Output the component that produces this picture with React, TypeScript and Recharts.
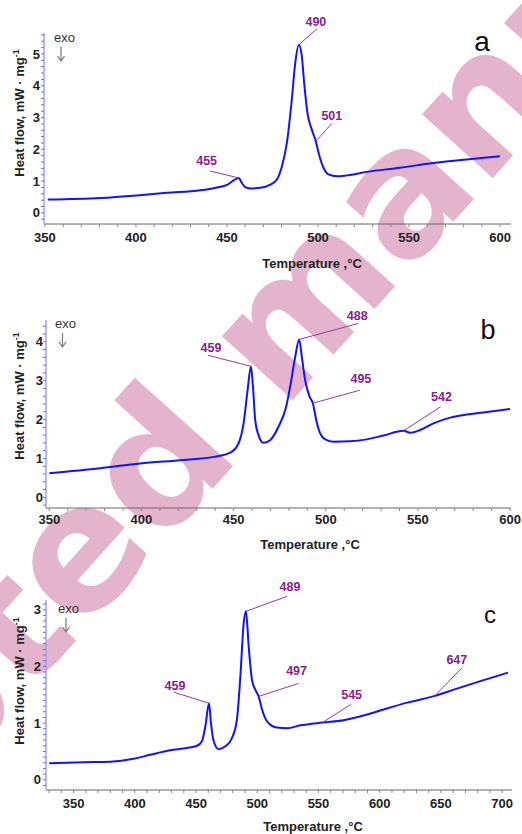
import { LineChart, Line, XAxis, YAxis, ReferenceDot } from 'recharts';

// panel a
const tempA = [351.6, 380.5, 400.6, 417, 435.4, 444.5, 450, 453.7, 456.4, 458.2, 460, 462.8, 468.3, 473.8, 477.4, 480.2, 482.9, 485.6, 487.5, 489.5, 491.1, 492.4, 494.2, 496.6, 498.8, 500.8, 503, 505.8, 510.3, 515.8, 526.8, 545, 563.3, 581.6, 599.9];
const flowA = [0.42, 0.47, 0.55, 0.63, 0.71, 0.8, 0.88, 1.02, 1.1, 0.94, 0.81, 0.77, 0.79, 0.89, 1.05, 1.47, 2.2, 3.56, 4.72, 5.29, 4.93, 4.09, 3.14, 2.62, 2.25, 1.78, 1.42, 1.21, 1.15, 1.18, 1.29, 1.42, 1.57, 1.68, 1.78];
const peaksA = [
  { label: '455', t: 456.4, v: 1.1 },
  { label: '490', t: 489.5, v: 5.29 },
  { label: '501', t: 498.8, v: 2.25 },
];

// panel b
const tempB = [350, 377.7, 399.3, 422.8, 439.1, 448.2, 452.7, 455.4, 457.6, 459.4, 460.5, 461.7, 463.5, 466.2, 469.8, 474.4, 478.5, 481, 483.4, 485.6, 487, 488.8, 491.2, 493, 494.8, 497, 499.7, 504.2, 513.2, 522.3, 531.3, 542.2, 545.8, 551.2, 558.4, 567.5, 576.5, 585.5, 600];
const flowB = [0.62, 0.75, 0.87, 0.96, 1.04, 1.15, 1.39, 1.9, 2.76, 3.37, 2.84, 1.99, 1.6, 1.4, 1.47, 1.82, 2.33, 2.93, 3.61, 4.06, 3.61, 3.01, 2.59, 2.42, 1.99, 1.64, 1.49, 1.43, 1.44, 1.49, 1.59, 1.71, 1.66, 1.73, 1.9, 2.05, 2.13, 2.18, 2.27];
const peaksB = [
  { label: '459', t: 459.4, v: 3.37 },
  { label: '488', t: 485.6, v: 4.06 },
  { label: '495', t: 493, v: 2.42 },
  { label: '542', t: 542.2, v: 1.71 },
];

// panel c
const tempC = [330.1, 358.2, 380, 399, 412.6, 429, 442.6, 450.8, 454.8, 457.6, 460.6, 462.2, 464.4, 468.5, 473.9, 479.4, 483.4, 486.2, 488.9, 490.8, 493, 495.7, 498.4, 501.1, 503.9, 508, 516.1, 524.3, 535.2, 553.4, 570.6, 589.7, 603.3, 622.3, 645, 660.5, 682.2, 704.8];
const flowC = [0.29, 0.31, 0.32, 0.37, 0.44, 0.52, 0.56, 0.6, 0.68, 0.94, 1.35, 1.0, 0.68, 0.54, 0.59, 0.74, 1.06, 1.82, 2.76, 2.97, 2.35, 1.76, 1.59, 1.47, 1.24, 1.03, 0.92, 0.91, 0.96, 1.01, 1.05, 1.15, 1.24, 1.36, 1.48, 1.59, 1.74, 1.89];
const peaksC = [
  { label: '459', t: 460.6, v: 1.35 },
  { label: '489', t: 490.8, v: 2.97 },
  { label: '497', t: 501.1, v: 1.47 },
  { label: '545', t: 553.4, v: 1.01 },
  { label: '647', t: 645, v: 1.48 },
];

const panelLetters = ['a', 'b', 'c'];

// leader line end and label position, px from the marked point
const calloutA = [
  { lx: -29, ly: -7, tx: -32, ty: -13 },
  { lx: 18, ly: -16, tx: 17, ty: -19 },
  { lx: 16, ly: -18, tx: 16, ty: -21 },
];
const calloutB = [
  { lx: -43, ly: -11, tx: -40, ty: -14 },
  { lx: 59, ly: -16, tx: 58, ty: -19 },
  { lx: 47, ly: -13, tx: 48, ty: -20 },
  { lx: 37, ly: -24, tx: 38, ty: -30 },
];
const calloutC = [
  { lx: -35, ly: -11, tx: -34, ty: -13 },
  { lx: 41, ly: -15, tx: 44, ty: -20 },
  { lx: 40, ly: -13, tx: 38, ty: -21 },
  { lx: 28, ly: -18, tx: 29, ty: -24 },
  { lx: 27, ly: -28, tx: 22, ty: -32 },
];

const FONT = 'Arial, "Liberation Sans", sans-serif';
const CURVE = '#1212ff';
const NOTE = '#8a1c8a';

const steps = (from: number, to: number, step: number) => {
  const out: number[] = [];
  for (let i = 0; from + i * step <= to + 1e-9; i++) out.push(+(from + i * step).toFixed(3));
  return out;
};

const intLabel = (v: number) => (Math.abs(v - Math.round(v)) < 1e-6 ? String(Math.round(v)) : '');
const fiftyLabel = (v: number) => (Math.round(v) % 50 === 0 ? String(Math.round(v)) : '');

function Callout(props: any) {
  const { cx, cy, note, pos } = props;
  if (cx == null || cy == null) return null;
  return (
    <g>
      <line x1={cx} y1={cy} x2={cx + pos.lx} y2={cy + pos.ly} stroke="#9a3a9a" strokeWidth={1} />
      <text x={cx + pos.tx} y={cy + pos.ty} textAnchor="middle" fontSize={12.5} fontWeight="bold" fill={NOTE} fontFamily={FONT}>
        {note.label}
      </text>
    </g>
  );
}

interface PanelProps {
  temps: number[];
  flows: number[];
  peaks: { label: string; t: number; v: number }[];
  callouts: { lx: number; ly: number; tx: number; ty: number }[];
  height: number;
  top: number;
  axisW: number;
  axisH: number;
  right: number;
  xDomain: [number, number];
  yDomain: [number, number];
  xTicks: number[];
  yTicks: number[];
  xTickMargin: number;
  yTickMargin: number;
}

function Panel(p: PanelProps) {
  const data = p.temps.map((t, i) => ({ t, v: p.flows[i] }));
  const tickStyle = { fontSize: 13, fontWeight: 'bold', fill: '#222', fontFamily: FONT };
  return (
    <LineChart width={522} height={p.height} data={data} margin={{ top: p.top, right: p.right, left: 0, bottom: 0 }}>
      <XAxis
        type="number"
        dataKey="t"
        domain={p.xDomain}
        ticks={p.xTicks}
        interval={0}
        allowDataOverflow
        height={p.axisH}
        tickFormatter={fiftyLabel}
        tickSize={3}
        tickMargin={p.xTickMargin}
        tick={tickStyle}
        axisLine={{ stroke: '#666' }}
        tickLine={{ stroke: '#888' }}
      />
      <YAxis
        type="number"
        domain={p.yDomain}
        ticks={p.yTicks}
        interval={0}
        allowDataOverflow
        width={p.axisW}
        tickFormatter={intLabel}
        tickSize={3}
        tickMargin={p.yTickMargin}
        tick={tickStyle}
        axisLine={{ stroke: '#a0a0ff', strokeWidth: 1.5 }}
        tickLine={{ stroke: '#6a6aff' }}
      />
      <Line type="monotone" dataKey="v" stroke={CURVE} strokeWidth={2} dot={false} isAnimationActive={false} />
      {p.peaks.map((pk, i) => (
        <ReferenceDot
          key={pk.label + i}
          x={pk.t}
          y={pk.v}
          r={0}
          ifOverflow="visible"
          shape={(s: any) => <Callout {...s} note={pk} pos={p.callouts[i]} />}
        />
      ))}
    </LineChart>
  );
}

function Exo({ x, y, ax, ay }: { x: number; y: number; ax: number; ay: number }) {
  return (
    <g>
      <text x={x} y={y} fontSize={13} fill="#333" fontFamily={FONT}>exo</text>
      <path d={`M${ax},${ay} L${ax},${ay + 14} M${ax - 3.5},${ay + 9} L${ax},${ay + 14} L${ax + 3.5},${ay + 9}`} stroke="#777" strokeWidth={1.2} fill="none" />
    </g>
  );
}

function YTitle({ x, y }: { x: number; y: number }) {
  return (
    <text x={x} y={y} transform={`rotate(-90, ${x}, ${y})`} textAnchor="middle" fontSize={13} fontWeight="bold" fill="#222" fontFamily={FONT}>
      Heat flow, mW · mg<tspan dy={-5} fontSize={9}>-1</tspan>
    </text>
  );
}

function XTitle({ x, y }: { x: number; y: number }) {
  return (
    <text x={x} y={y} textAnchor="middle" fontSize={13} fontWeight="bold" fill="#222" fontFamily={FONT}>
      Temperature ,°C
    </text>
  );
}

export default function App() {
  const box = { position: 'absolute' as const, left: 0 };
  return (
    <div style={{ position: 'absolute', left: 0, top: 0, width: 522, height: 834, background: '#fff', overflow: 'hidden' }}>
      {/* watermark */}
      <svg width={522} height={834} style={{ ...box, top: 0 }}>
        <g transform="translate(263,433) rotate(-48)" fill="#e4b4cc" fontFamily='"DejaVu Sans", sans-serif' fontWeight="bold" fontSize={174}>
          <text x={-30} y={0} textAnchor="end">Accepted</text>
          <text x={30} y={0}>manuscript</text>
        </g>
      </svg>

      <div style={{ ...box, top: 0 }}>
        <Panel
          temps={tempA} flows={flowA} peaks={peaksA} callouts={calloutA}
          height={280} top={33} axisW={44} axisH={56} right={11}
          xDomain={[349.5, 606]} yDomain={[-0.35, 5.66]}
          xTicks={steps(350, 600, 10)} yTicks={steps(-0.2, 5.6, 0.2)}
          xTickMargin={6} yTickMargin={1}
        />
      </div>
      <div style={{ ...box, top: 280 }}>
        <Panel
          temps={tempB} flows={flowB} peaks={peaksB} callouts={calloutB}
          height={280} top={40} axisW={46} axisH={52} right={11}
          xDomain={[348.2, 600.5]} yDomain={[-0.275, 4.56]}
          xTicks={steps(350, 600, 10)} yTicks={steps(-0.2, 4.4, 0.2)}
          xTickMargin={4} yTickMargin={0}
        />
      </div>
      <div style={{ ...box, top: 560 }}>
        <Panel
          temps={tempC} flows={flowC} peaks={peaksC} callouts={calloutC}
          height={274} top={40} axisW={46} axisH={44} right={10}
          xDomain={[327.5, 708]} yDomain={[-0.18, 3.17]}
          xTicks={steps(330, 700, 10)} yTicks={steps(-0.1, 3.1, 0.1)}
          xTickMargin={6} yTickMargin={2}
        />
      </div>

      <svg width={522} height={834} style={{ ...box, top: 0, pointerEvents: 'none' }}>
        <YTitle x={24} y={113} />
        <YTitle x={24} y={396} />
        <YTitle x={24} y={681} />
        <XTitle x={312} y={267.5} />
        <XTitle x={310} y={548.5} />
        <XTitle x={313} y={831} />
        <Exo x={54} y={42} ax={61} ay={47} />
        <Exo x={55} y={328} ax={62.5} ay={333} />
        <Exo x={58} y={612.5} ax={66} ay={618} />
        <text x={482} y={51} textAnchor="middle" fontSize={28} fill="#111" fontFamily={FONT}>{panelLetters[0]}</text>
        <text x={488} y={339} textAnchor="middle" fontSize={27} fill="#111" fontFamily={FONT}>{panelLetters[1]}</text>
        <text x={490} y={622.5} textAnchor="middle" fontSize={24} fill="#111" fontFamily={FONT}>{panelLetters[2]}</text>
      </svg>
    </div>
  );
}
